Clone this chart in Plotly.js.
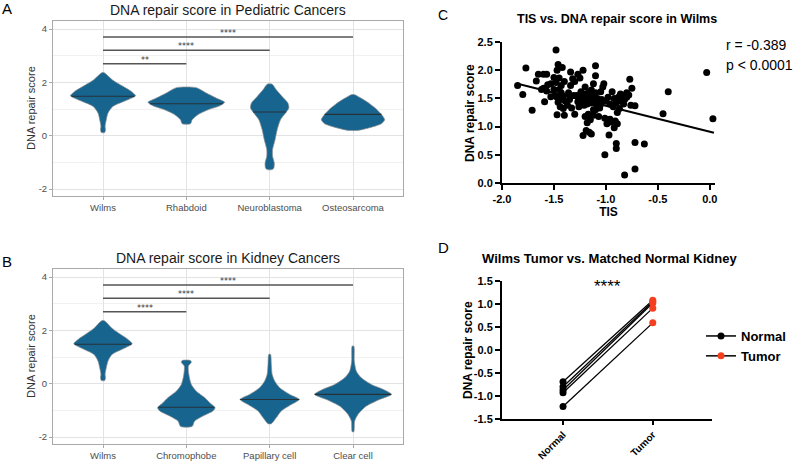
<!DOCTYPE html>
<html>
<head>
<meta charset="utf-8">
<script src="https://cdn.plot.ly/plotly-3.0.1.min.js"></script>
<style>html,body{margin:0;padding:0;background:#fff;}#chart{width:798px;height:461px;}</style>
</head>
<body>
<div id="chart"></div>
<script>
// ---------- Panel A / B categories ----------
const pedCategories = ['Wilms', 'Rhabdoid', 'Neuroblastoma', 'Osteosarcoma'];
const kidneyCategories = ['Wilms', 'Chromophobe', 'Papillary cell', 'Clear cell'];

// Violin outlines: score levels and half-widths (category units)
const wilmsA_y = [0.12, 0.22, 0.35, 0.6, 0.85, 1.1, 1.35, 1.5, 1.66, 1.85, 2.1, 2.3, 2.37];
const wilmsA_w = [0.02, 0.03, 0.025, 0.04, 0.06, 0.12, 0.30, 0.39, 0.34, 0.24, 0.11, 0.04, 0.01];
const rhabdoid_y = [0.45, 0.6, 0.79, 0.97, 1.12, 1.25, 1.41, 1.6, 1.8];
const rhabdoid_w = [0.05, 0.07, 0.14, 0.26, 0.40, 0.46, 0.36, 0.24, 0.12];
const neuro_y = [-1.27, -1.21, -1.02, -0.77, -0.52, -0.15, 0.22, 0.6, 0.85, 1.04, 1.22, 1.47, 1.72, 1.93];
const neuro_w = [0.03, 0.05, 0.055, 0.035, 0.035, 0.065, 0.09, 0.13, 0.19, 0.23, 0.22, 0.15, 0.08, 0.03];
const osteo_y = [0.2, 0.3, 0.45, 0.6, 0.8, 1.0, 1.2, 1.4, 1.54];
const osteo_w = [0.06, 0.2, 0.34, 0.38, 0.34, 0.28, 0.2, 0.1, 0.02];
const pedMedians = [1.48, 1.2, 0.89, 0.8];

const wilmsB_y = [0.12, 0.22, 0.35, 0.6, 0.85, 1.1, 1.35, 1.5, 1.66, 1.85, 2.1, 2.3, 2.37];
const wilmsB_w = [0.02, 0.03, 0.025, 0.04, 0.06, 0.11, 0.27, 0.35, 0.30, 0.21, 0.10, 0.04, 0.01];
const chromo_y = [-1.6, -1.4, -1.21, -1.02, -0.9, -0.71, -0.52, -0.28, -0.03, 0.35, 0.66, 0.8, 0.87];
const chromo_w = [0.07, 0.1, 0.2, 0.32, 0.345, 0.28, 0.22, 0.12, 0.06, 0.03, 0.025, 0.06, 0.05];
const papillary_y = [-1.5, -1.27, -1.02, -0.78, -0.59, -0.4, -0.15, 0.1, 0.35, 0.72, 1.1];
const papillary_w = [0.02, 0.08, 0.14, 0.26, 0.355, 0.24, 0.12, 0.06, 0.03, 0.02, 0.01];
const clear_y = [-1.8, -1.4, -1.15, -0.84, -0.59, -0.4, -0.21, -0.03, 0.22, 0.47, 0.85, 1.41];
const clear_w = [0.01, 0.02, 0.06, 0.16, 0.32, 0.46, 0.36, 0.22, 0.1, 0.04, 0.016, 0.01];
const kidneyMedians = [1.48, -0.88, -0.59, -0.4];

// Significance brackets (Wilms vs each group)
const bracketEnds = [2, 3, 4];
const bracketHeights = [2.7, 3.2, 3.7];
const pedStars = ['**', '****', '****'];
const kidneyStars = ['****', '****', '****'];

// ---------- Panel C ----------
const tisX = [-1.85,-1.80,-1.77,-1.71,-1.67,-1.65,-1.60,-1.57,-1.62,-1.59,-1.56,-1.53,-1.50,-1.48,-1.46,-1.42,-1.47,-1.45,-1.48,-1.45,
 -1.43,-1.49,-1.47,-1.44,-1.41,-1.40,-1.44,-1.41,-1.37,-1.47,-1.40,-1.46,-1.50,-1.34,-1.32,-1.30,-1.36,-1.35,-1.33,-1.30,
 -1.27,-1.25,-1.22,-1.20,-1.28,-1.26,-1.24,-1.22,-1.20,-1.18,-1.16,-1.24,-1.21,-1.18,-1.26,-1.20,-1.17,-1.22,-1.19,-1.16,
 -1.14,-1.18,-1.15,-1.12,-1.10,-1.10,-1.12,-1.14,-1.10,-1.08,-1.12,-1.09,-1.06,-1.10,-1.14,-1.17,-1.24,-1.13,-1.05,-1.03,
 -1.02,-1.04,-1.00,-0.98,-1.01,-0.98,-0.99,-0.96,-0.95,-0.97,-1.01,-0.94,-0.92,-0.90,-0.93,-0.89,-0.87,-0.85,-0.82,-0.80,
 -0.78,-0.77,-0.75,-0.76,-0.72,-0.91,-0.89,-0.90,-0.90,-0.82,-0.72,-0.72,-0.63,-0.86,-0.88,-0.83,-0.45,-0.40,-0.03,0.03,
 -1.23,-1.19,-1.15,-1.21,-1.27,-1.11,-1.31,-1.39,-1.53,-1.57,-1.05,-0.96,-0.84,-0.80,-1.34,-1.60,-1.43,-1.12,-1.07,-0.92];
const repairY = [1.73,1.57,2.04,1.29,1.81,1.93,1.93,1.93,1.66,1.44,1.74,1.76,1.87,2.36,2.10,2.05,2.00,1.86,1.78,1.66,
 1.60,1.55,1.52,1.48,1.54,1.80,1.35,1.32,1.38,1.21,1.20,1.43,1.66,1.97,1.85,1.80,1.60,1.48,1.33,1.22,
 1.93,1.86,2.00,1.70,1.55,1.50,1.45,1.58,1.52,1.46,1.55,1.40,1.38,1.40,1.35,1.18,1.22,0.84,0.93,0.90,
 0.87,1.07,1.12,1.20,2.08,1.90,1.76,1.65,1.60,1.50,1.45,1.40,1.33,1.30,1.42,1.60,1.62,1.50,1.62,1.70,
 1.76,1.48,1.45,1.52,1.15,1.12,1.05,1.13,1.08,0.85,0.50,1.62,1.50,1.42,1.35,1.25,1.32,1.45,1.48,1.52,
 1.56,1.84,1.68,1.38,1.37,1.10,1.05,0.70,0.61,0.14,0.25,0.72,0.69,1.58,1.52,1.40,1.23,1.62,1.96,1.14,
 1.52,1.55,1.47,1.47,1.44,1.55,1.55,1.45,1.53,1.63,1.40,1.40,1.55,1.60,1.73,1.68,1.73,1.30,1.18,0.98];
const fitX = [-1.85, 0.04];
const fitY = [1.76, 0.89];
const cTicks = [-2, -1.5, -1, -0.5, 0];
const cTickText = ['-2.0', '-1.5', '-1.0', '-0.5', '0.0'];
const cYTicks = [0, 0.5, 1, 1.5, 2, 2.5];
const cYTickText = ['0.0', '0.5', '1.0', '1.5', '2.0', '2.5'];

// ---------- Panel D ----------
const pairGroups = ['Normal', 'Tumor'];
const normalScores = [-0.69, -0.80, -0.87, -0.93, -1.23];
const tumorScores = [1.08, 1.05, 1.02, 0.91, 0.59];
const dTicks = [-1.5, -1, -0.5, 0, 0.5, 1, 1.5];
const dTickText = ['-1.5', '-1.0', '-0.5', '0.0', '0.5', '1.0', '1.5'];

// ---------- Styles ----------
const violinFill = '#17648f';
const violinLine = '#8f8f8f';
const tumorRed = '#f5401f';
const gg = '#4d4d4d';

function widthAt(ys, ws, v) {
  for (let i = 0; i < ys.length - 1; i++) {
    if (v >= ys[i] && v <= ys[i + 1]) {
      const t = (v - ys[i]) / (ys[i + 1] - ys[i]);
      return ws[i] + t * (ws[i + 1] - ws[i]);
    }
  }
  return 0;
}

const traces = [];
function addViolin(xa, ya, center, ys, ws, med) {
  const xs = [], yy = [];
  for (let i = 0; i < ys.length; i++) { xs.push(center + ws[i]); yy.push(ys[i]); }
  for (let i = ys.length - 1; i >= 0; i--) { xs.push(center - ws[i]); yy.push(ys[i]); }
  xs.push(xs[0]); yy.push(yy[0]);
  traces.push({type: 'scatter', mode: 'lines', x: xs, y: yy, xaxis: xa, yaxis: ya, fill: 'toself',
    fillcolor: violinFill, line: {color: violinLine, width: 0.7, shape: 'spline', smoothing: 0.7},
    hoverinfo: 'skip', showlegend: false});
  const w = widthAt(ys, ws, med);
  traces.push({type: 'scatter', mode: 'lines', x: [center - w, center + w], y: [med, med], xaxis: xa, yaxis: ya,
    line: {color: '#263238', width: 1.1}, hoverinfo: 'skip', showlegend: false});
}

const pedProfiles = [[wilmsA_y, wilmsA_w], [rhabdoid_y, rhabdoid_w], [neuro_y, neuro_w], [osteo_y, osteo_w]];
const kidProfiles = [[wilmsB_y, wilmsB_w], [chromo_y, chromo_w], [papillary_y, papillary_w], [clear_y, clear_w]];
pedProfiles.forEach((p, i) => addViolin('x', 'y', i + 1, p[0], p[1], pedMedians[i]));
kidProfiles.forEach((p, i) => addViolin('x2', 'y2', i + 1, p[0], p[1], kidneyMedians[i]));

const font = 'Liberation Sans, Arial, sans-serif';
const annotations = [];
function addBrackets(xa, ya, stars) {
  bracketEnds.forEach((e, i) => {
    traces.push({type: 'scatter', mode: 'lines', x: [1, e], y: [bracketHeights[i], bracketHeights[i]], xaxis: xa, yaxis: ya,
      line: {color: '#555555', width: 1.5}, hoverinfo: 'skip', showlegend: false});
    annotations.push({xref: xa, yref: ya, x: (1 + e) / 2, y: bracketHeights[i], text: stars[i], showarrow: false,
      yanchor: 'bottom', yshift: -3, font: {family: 'DejaVu Sans, sans-serif', size: 8, color: '#333'}});
  });
}
addBrackets('x', 'y', pedStars);
addBrackets('x2', 'y2', kidneyStars);

// Panel C
traces.push({type: 'scatter', mode: 'markers', x: tisX, y: repairY, xaxis: 'x3', yaxis: 'y3',
  marker: {color: '#000', size: 7}, showlegend: false, cliponaxis: false});
traces.push({type: 'scatter', mode: 'lines', x: fitX, y: fitY, xaxis: 'x3', yaxis: 'y3',
  line: {color: '#000', width: 2}, showlegend: false});

// Panel D: pair lines with normal markers
const pairX = [], pairY = [];
normalScores.forEach((v, i) => { pairX.push(pairGroups[0], pairGroups[1], null); pairY.push(v, tumorScores[i], null); });
traces.push({type: 'scatter', mode: 'lines', x: pairX, y: pairY, xaxis: 'x4', yaxis: 'y4',
  line: {color: '#000', width: 1.3}, showlegend: false, hoverinfo: 'skip'});
const nX = [], nY = [], tX = [], tY = [];
normalScores.forEach(v => { nX.push(pairGroups[0], null); nY.push(v, null); });
tumorScores.forEach(v => { tX.push(pairGroups[1], null); tY.push(v, null); });
traces.push({type: 'scatter', mode: 'lines+markers', name: 'Normal', x: nX, y: nY, xaxis: 'x4', yaxis: 'y4',
  line: {color: '#000', width: 1.5}, marker: {color: '#000', size: 7}, cliponaxis: false});
traces.push({type: 'scatter', mode: 'lines+markers', name: 'Tumor', x: tX, y: tY, xaxis: 'x4', yaxis: 'y4',
  line: {color: '#000', width: 1.5}, marker: {color: tumorRed, size: 7}, cliponaxis: false});

// Text annotations
function P(x, y) { return {x: x / 798, y: 1 - y / 461}; }
function addText(px, py, text, size, opts) {
  const p = P(px, py);
  annotations.push(Object.assign({xref: 'paper', yref: 'paper', x: p.x, y: p.y, text: text, showarrow: false,
    xanchor: 'center', yanchor: 'middle', font: {family: font, size: size, color: '#000'}}, opts || {}));
}
addText(7, 8, 'A', 15);
addText(7, 261, 'B', 15);
addText(443, 15, 'C', 14);
addText(443, 247, 'D', 15);
addText(228, 10, 'DNA repair score in Pediatric Cancers', 14, {font: {family: font, size: 14, color: '#1a1a1a'}});
addText(228, 258, 'DNA repair score in Kidney Cancers', 14, {font: {family: font, size: 14, color: '#1a1a1a'}});
addText(617, 19, '<b>TIS vs. DNA repair score in Wilms</b>', 12.5);
addText(609, 258, '<b>Wilms Tumor vs. Matched Normal Kidney</b>', 13);
addText(724, 45, 'r = -0.389', 14, {xanchor: 'left'});
addText(724, 65, 'p < 0.0001', 14, {xanchor: 'left'});
// y-axis titles
addText(31, 108, 'DNA repair score', 11, {textangle: -90, font: {family: font, size: 11, color: '#333'}});
addText(31, 356, 'DNA repair score', 11, {textangle: -90, font: {family: font, size: 11, color: '#333'}});
addText(470, 113, '<b>DNA repair score</b>', 12, {textangle: -90});
addText(468, 350, '<b>DNA repair score</b>', 12, {textangle: -90});
annotations.push({xref: 'x4', yref: 'y4', x: 0.5, y: 1.38, text: '****', showarrow: false,
  font: {family: font, size: 17, color: '#000'}});

const ggX = {range: [0.4, 4.6], tickvals: [1, 2, 3, 4], showgrid: true, gridcolor: '#e3e3e3', gridwidth: 1,
  showline: true, mirror: true, linecolor: '#aaaaaa', linewidth: 1, ticks: 'outside', ticklen: 3, tickcolor: '#aaaaaa',
  tickfont: {family: font, size: 9.5, color: gg}, zeroline: false, fixedrange: true};
const ggY = {range: [-2.26, 4.3], tickvals: [-2, 0, 2, 4], ticktext: ['-2', '0', '2', '4'], showgrid: true,
  gridcolor: '#e3e3e3', gridwidth: 1, showline: true, mirror: true, linecolor: '#aaaaaa', linewidth: 1,
  ticks: 'outside', ticklen: 3, tickcolor: '#aaaaaa', tickfont: {family: font, size: 9.5, color: gg}, zeroline: false,
  minor: {tickvals: [-1, 1, 3], showgrid: true, gridcolor: '#f1f1f1', gridwidth: 1, ticks: ''}};

const gpAxis = {showline: true, linecolor: '#000', linewidth: 2, ticks: 'outside', ticklen: 5, tickwidth: 2,
  tickcolor: '#000', showgrid: false, zeroline: false, tickfont: {family: font, size: 11, color: '#000', weight: 'bold'}};

const layout = {
  width: 798, height: 461, margin: {l: 0, r: 0, t: 0, b: 0}, paper_bgcolor: '#fff', plot_bgcolor: '#fff',
  font: {family: font},
  xaxis: Object.assign({}, ggX, {domain: [53 / 798, 403 / 798], anchor: 'y', ticktext: pedCategories}),
  yaxis: Object.assign({}, ggY, {domain: [1 - 196 / 461, 1 - 21 / 461], anchor: 'x'}),
  xaxis2: Object.assign({}, ggX, {domain: [53 / 798, 403 / 798], anchor: 'y2', ticktext: kidneyCategories}),
  yaxis2: Object.assign({}, ggY, {domain: [1 - 444 / 461, 1 - 269 / 461], anchor: 'x2'}),
  xaxis3: Object.assign({}, gpAxis, {domain: [502 / 798, 715 / 798], anchor: 'y3', range: [-2, 0.05],
    tickvals: cTicks, ticktext: cTickText,
    title: {text: '<b>TIS</b>', font: {family: font, size: 12, color: '#000'}, standoff: 2}}),
  yaxis3: Object.assign({}, gpAxis, {domain: [1 - 183 / 461, 1 - 42 / 461], anchor: 'x3', range: [0, 2.5],
    tickvals: cYTicks, ticktext: cYTickText}),
  xaxis4: Object.assign({}, gpAxis, {domain: [502 / 798, 712 / 798], anchor: 'y4', type: 'category',
    categoryarray: pairGroups, range: [-0.68, 1.66], tickangle: -45, ticklen: 4,
    tickfont: {family: font, size: 10, color: '#000', weight: 'bold'}}),
  yaxis4: Object.assign({}, gpAxis, {domain: [1 - 419 / 461, 1 - 281 / 461], anchor: 'x4', range: [-1.5, 1.5],
    tickvals: dTicks, ticktext: dTickText}),
  legend: {x: 701 / 798, y: 1 - 321 / 461, xanchor: 'left', yanchor: 'top', bgcolor: 'rgba(0,0,0,0)',
    font: {family: font, size: 13, color: '#000', weight: 'bold'}, itemwidth: 30, tracegroupgap: 0},
  showlegend: true,
  annotations: annotations
};

Plotly.newPlot('chart', traces, layout, {displayModeBar: false, staticPlot: true});
</script>
</body>
</html>
